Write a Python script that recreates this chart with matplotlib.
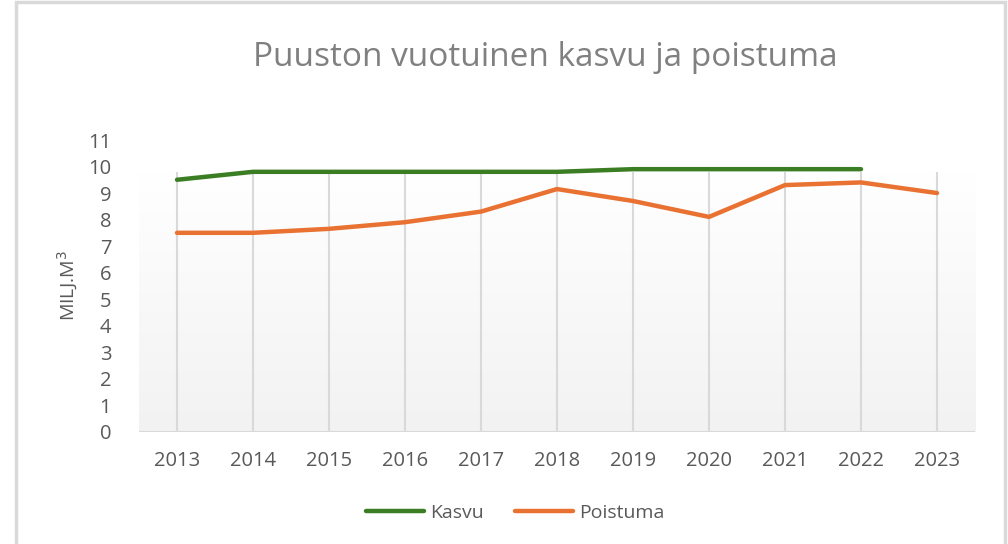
import matplotlib.pyplot as plt
import numpy as np
from matplotlib.patches import Rectangle

plt.rcParams['font.family'] = ['Open Sans', 'DejaVu Sans']

# Data
years = ['2013', '2014', '2015', '2016', '2017', '2018', '2019', '2020', '2021', '2022', '2023']
kasvu = [9.5, 9.8, 9.8, 9.8, 9.8, 9.8, 9.9, 9.9, 9.9, 9.9, None]
poistuma = [7.5, 7.5, 7.65, 7.9, 8.3, 9.15, 8.7, 8.1, 9.3, 9.4, 9.0]
yticks = list(range(0, 12))

fig = plt.figure(figsize=(10.08, 5.44), dpi=100)
fig.patches.append(Rectangle((16 / 1008, -0.01), (1005 - 16) / 1008, 1.0 - 1.5 / 544 + 0.01,
                             transform=fig.transFigure, fill=False,
                             edgecolor='#d9d9d9', linewidth=2.5))

ax = fig.add_axes([139 / 1008, 112.3 / 544, 836 / 1008, 291.7 / 544])
x = np.arange(len(years))
ax.set_xlim(-0.5, len(years) - 0.5)
ax.set_ylim(0, 11)

# fond dégradé de la zone de tracé
top = 9.8
grad = np.linspace(0, 1, 256).reshape(-1, 1)
ax.imshow(grad, cmap=plt.matplotlib.colors.LinearSegmentedColormap.from_list(
    'g', ['#f2f2f2', '#ffffff']), origin='lower', aspect='auto',
    extent=(-0.5, len(years) - 0.5, 0, top), zorder=0)

# lignes verticales
ax.vlines(x, 0, top, color='#d9d9d9', linewidth=1.5, zorder=1)
ax.axhline(0, color='#d9d9d9', linewidth=1.5, zorder=1)

k = np.array([np.nan if v is None else v for v in kasvu], dtype=float)
ax.plot(x, k, color='#3a7d22', linewidth=3.2, solid_capstyle='round', label='Kasvu', zorder=3)
ax.plot(x, poistuma, color='#e97132', linewidth=3.2, solid_capstyle='round', label='Poistuma', zorder=3)

for s in ax.spines.values():
    s.set_visible(False)
ax.set_xticks(x)
ax.set_xticklabels(years)
ax.set_yticks(yticks)
ax.tick_params(length=0, labelsize=14.5, labelcolor='#595959')
ax.tick_params(axis='x', pad=14)
ax.tick_params(axis='y', pad=20)
ax.set_ylabel('MILJ.M$^3$', fontsize=14, color='#595959', labelpad=6)

fig.text(545 / 1008, 1 - 57 / 544, 'Puuston vuotuinen kasvu ja poistuma',
         ha='center', va='center', fontsize=24, color='#808080')

fig.legend(loc='center', bbox_to_anchor=(515 / 1008, 1 - 513 / 544), ncol=2, frameon=False,
           fontsize=14, labelcolor='#595959', handlelength=3.0, handletextpad=0.3,
           columnspacing=1.6)

fig.savefig('out.png', dpi=100)
